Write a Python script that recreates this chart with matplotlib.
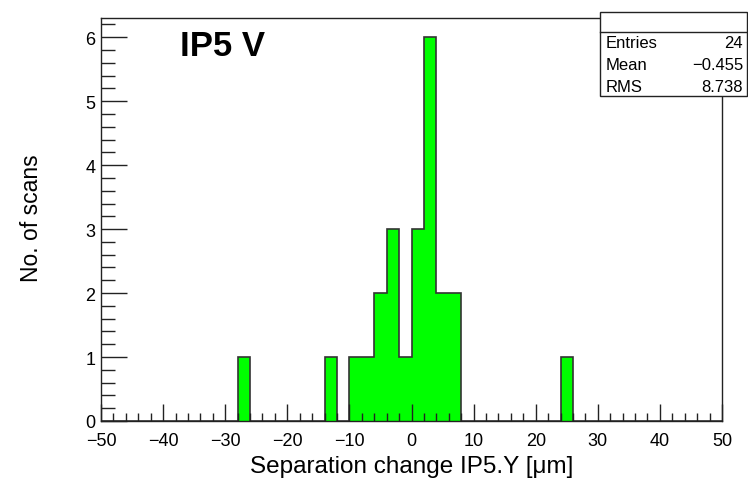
import numpy as np
import matplotlib.pyplot as plt
from matplotlib.ticker import MultipleLocator

plt.rcParams['font.family'] = ['Liberation Sans', 'DejaVu Sans']

# histogram data: lower bin edges (width 2) and counts
bin_low = [-28, -14, -10, -8, -6, -4, -2, 0, 2, 4, 6, 24]
counts = [1, 1, 1, 1, 2, 3, 1, 3, 6, 2, 2, 1]
bin_width = 2
x_range = (-50, 50)
stats_labels = ['Entries', 'Mean', 'RMS']
stats_values = ['24', '\u22120.455', '8.738']

edges = np.arange(x_range[0], x_range[1] + bin_width, bin_width)
full = np.zeros(len(edges) - 1)
for lo, c in zip(bin_low, counts):
    full[int((lo - x_range[0]) / bin_width)] = c

W, H = 748, 485
fig = plt.figure(figsize=(W / 100, H / 100), dpi=100)
ax = fig.add_axes([101 / W, (H - 422) / H, 621 / W, (422 - 19) / H])

ax.stairs(full, edges, fill=True, color='#00ff00', linewidth=0)
ax.stairs(full, edges, color='#333333', linewidth=1.2, baseline=None)

ax.set_xlim(*x_range)
ax.set_ylim(0, 6.3)
ax.xaxis.set_major_locator(MultipleLocator(10))
ax.xaxis.set_minor_locator(MultipleLocator(2))
ax.yaxis.set_major_locator(MultipleLocator(1))
ax.yaxis.set_minor_locator(MultipleLocator(0.2))
ax.tick_params(axis='both', which='both', direction='in', top=False, right=False,
               labelsize=13, width=1, color='#222222')
ax.tick_params(axis='x', which='major', length=12, pad=8)
ax.tick_params(axis='x', which='minor', length=6)
ax.tick_params(axis='y', which='major', length=19, pad=4)
ax.tick_params(axis='y', which='minor', length=10)
ax.xaxis.set_major_formatter(plt.FuncFormatter(lambda v, p: f'{v:.0f}'.replace('-', '\u2212')))
for s in ax.spines.values():
    s.set_linewidth(1.0)
    s.set_color('#222222')

ax.set_xlabel('Separation change IP5.Y [\u03bcm]', fontsize=17.5, labelpad=4)
ax.set_ylabel('No. of scans', fontsize=16.5)
ax.yaxis.set_label_coords(-0.093, 0.505)

ax.text(-37.3, 5.87, 'IP5 V', fontsize=25, fontweight='bold', va='center', ha='left')

# stats box
bx0, bx1, by0, by1 = 600 / W, 747 / W, 1 - 97 / H, 1 - 13 / H
sep = 1 - 33 / H
fig.patches.append(plt.Rectangle((bx0, by0), bx1 - bx0, by1 - by0, transform=fig.transFigure,
                                 facecolor='white', edgecolor='#222222', linewidth=1.0, zorder=5))
fig.add_artist(plt.Line2D([bx0, bx1], [sep, sep], transform=fig.transFigure, color='#222222',
                          linewidth=1.0, zorder=6))
rows_y = [44, 65, 87]
for lab, val, yy in zip(stats_labels, stats_values, rows_y):
    fig.text(606 / W, 1 - yy / H, lab, fontsize=12, va='center', ha='left', zorder=7)
    fig.text(743 / W, 1 - yy / H, val, fontsize=12, va='center', ha='right', zorder=7)

fig.savefig('out.png', dpi=100)
